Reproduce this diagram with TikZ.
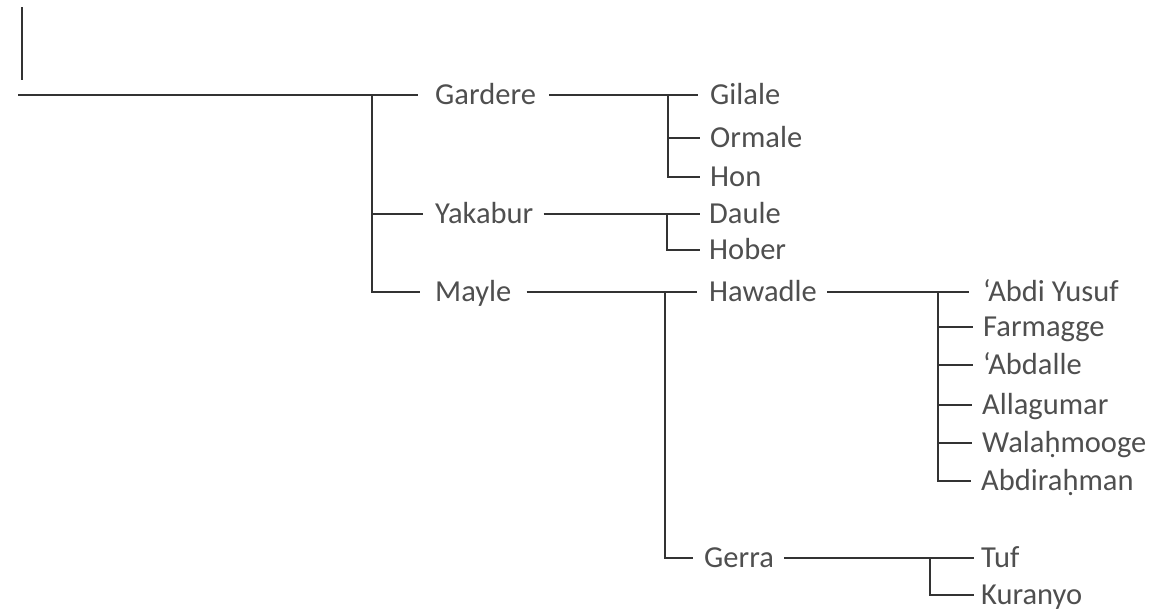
\documentclass[tikz,border=0pt]{standalone}
\usepackage{fontspec}
\setmainfont{Carlito}
\definecolor{txtgray}{HTML}{4F4F4F}
\definecolor{lngray}{HTML}{333333}
\begin{document}
\begin{tikzpicture}[x=1pt,y=-1pt,
  lbl/.style={anchor=west, inner sep=0pt, text height=19.6pt, text depth=0pt,
    font=\fontsize{30.5}{36}\selectfont, text=txtgray},
  ln/.style={line width=2.2pt, draw=lngray},
  gapend/.style={shorten >=#1},
  gapstart/.style={shorten <=#1}]
\useasboundingbox (0,0) rectangle (1156,613);
% level 1
\node[lbl] (gardere) at (435,95) {Gardere};
\node[lbl] (yakabur) at (435,214) {Yakabur};
\node[lbl] (mayle) at (435,292) {Mayle};
% level 2
\node[lbl] (gilale) at (710,95) {Gilale};
\node[lbl] (ormale) at (710,138) {Ormale};
\node[lbl] (hon) at (710,177) {Hon};
\node[lbl] (daule) at (709,214) {Daule};
\node[lbl] (hober) at (709,250) {Hober};
\node[lbl] (hawadle) at (709,292) {Hawadle};
\node[lbl] (gerra) at (704,558) {Gerra};
% level 3
\node[lbl] (abdiyusuf) at (983,292) {‘Abdi Yusuf};
\node[lbl] (farmagge) at (983,327) {Farmagge};
\node[lbl] (abdalle) at (983,365) {‘Abdalle};
\node[lbl] (allagumar) at (982,405) {Allagumar};
\node[lbl] (walahmooge) at (982,443) {Walaḥmooge};
\node[lbl] (abdirahman) at (981,481) {Abdiraḥman};
\node[lbl] (tuf) at (981,558) {Tuf};
\node[lbl] (kuranyo) at (981,595) {Kuranyo};
% coordinates
\coordinate (topA) at (22,7);
\coordinate (topB) at (22,80);
\coordinate (rootL) at (18,95);
\coordinate (j0) at (372,95);
\coordinate (jG) at (668,95);
\coordinate (jY) at (667,214);
\coordinate (jM) at (665,292);
\coordinate (jH) at (938,292);
\coordinate (jR) at (930,558);
% root
\draw[ln] (topA) -- (topB);
\draw[ln, gapend=17pt] (rootL) -- (gardere.west);
\draw[ln, gapend=15pt] (j0) |- (mayle.west);
\draw[ln, gapend=12pt] (j0 |- yakabur.west) -- (yakabur.west);
% Gardere
\draw[ln, gapstart=13pt, gapend=12pt] (gardere.east) -- (gilale.west);
\draw[ln, gapend=10pt] (jG) |- (hon.west);
\draw[ln, gapend=10pt] (jG |- ormale.west) -- (ormale.west);
% Yakabur
\draw[ln, gapstart=10pt, gapend=9pt] (yakabur.east) -- (daule.west);
\draw[ln, gapend=9pt] (jY) |- (hober.west);
% Mayle
\draw[ln, gapstart=15pt, gapend=12pt] (mayle.east) -- (hawadle.west);
\draw[ln, gapend=11pt] (jM) |- (gerra.west);
% Hawadle
\draw[ln, gapstart=10pt, gapend=14pt] (hawadle.east) -- (abdiyusuf.west);
\draw[ln, gapend=10pt] (jH) |- (abdirahman.west);
\foreach \n in {farmagge,abdalle,allagumar,walahmooge}
  \draw[ln, gapend=10pt] (jH |- \n.west) -- (\n.west);
% Gerra
\draw[ln, gapstart=10pt, gapend=7pt] (gerra.east) -- (tuf.west);
\draw[ln, gapend=7pt] (jR) |- (kuranyo.west);
\end{tikzpicture}
\end{document}
